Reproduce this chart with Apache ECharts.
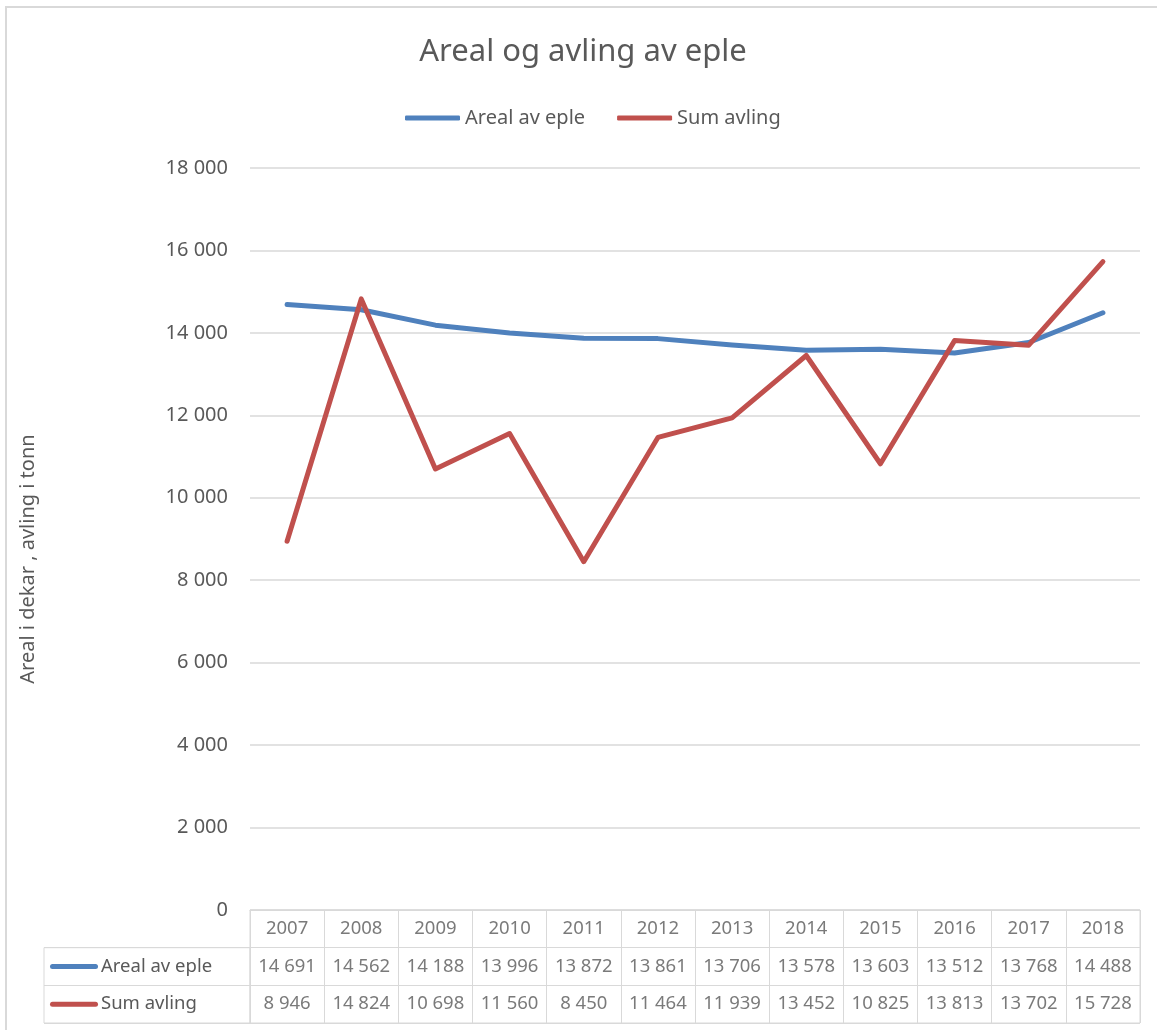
<!DOCTYPE html>
<html>
<head>
<meta charset="utf-8">
<script src="https://cdn.jsdelivr.net/npm/echarts@6/dist/echarts.min.js"></script>
<style>
    html, body { margin: 0; padding: 0; background: #fff; overflow: hidden; }
    #main {
        position: absolute; left: 5px; top: 6px;
        width: 1152px; height: 1024px;
        border-left: 2px solid #d9d9d9; border-top: 2px solid #d9d9d9;
    }
</style>
</head>
<body>
<div id="main"></div>
<script>
// data
var years = ['2007', '2008', '2009', '2010', '2011', '2012', '2013', '2014', '2015', '2016', '2017', '2018'];
var arealEple = [14691, 14562, 14188, 13996, 13872, 13861, 13706, 13578, 13603, 13512, 13768, 14488];
var sumAvling = [8946, 14824, 10698, 11560, 8450, 11464, 11939, 13452, 10825, 13813, 13702, 15728];
var seriesNames = ['Areal av eple', 'Sum avling'];
var seriesColors = ['#4f81bd', '#c0504d'];

var textColor = '#595959';
var lineColor = '#d9d9d9';
var font = 'Noto Sans';

var fmt = function (v) {
    return String(v).replace(/\B(?=(\d{3})+(?!\d))/g, ' ');
};

// table cells: header row with years, then one row per series
var cellData = [], cellText = [];
var rows = [years, arealEple, sumAvling];
for (var r = 0; r < rows.length; r++) {
    for (var i = 0; i < years.length; i++) {
        cellData.push([i, r]);
        cellText.push(r == 0 ? rows[r][i] : fmt(rows[r][i]));
    }
}

var myChart = echarts.init(document.getElementById('main'));
var option = {
    backgroundColor: '#fff',
    textStyle: { fontFamily: font },
    animation: false,
    title: {
        text: 'Areal og avling av eple',
        left: 'center',
        top: 24,
        textStyle: { fontFamily: font, fontSize: 31, fontWeight: 'normal', color: textColor }
    },
    legend: {
        data: seriesNames,
        left: 393,
        top: 95,
        icon: 'roundRect',
        itemWidth: 55,
        itemHeight: 5,
        itemGap: 32,
        textStyle: { fontFamily: font, fontSize: 20, color: textColor }
    },
    grid: [
        // plot
        { left: 243, top: 160, width: 890, height: 742 },
        // data table cells
        { left: 243, top: 902, width: 890, height: 113, show: true, borderColor: lineColor, borderWidth: 1 },
        // row labels of table
        { left: 37, top: 939.7, width: 206, height: 75.3, show: true, borderColor: lineColor, borderWidth: 1 }
    ],
    xAxis: [
        {
            gridIndex: 0,
            type: 'category',
            data: years,
            boundaryGap: true,
            axisLine: { lineStyle: { color: lineColor } },
            axisTick: { show: false },
            axisLabel: { show: false }
        },
        {
            gridIndex: 1,
            type: 'category',
            data: years,
            boundaryGap: true,
            axisLine: { show: false },
            axisTick: { show: false },
            axisLabel: { show: false },
            splitLine: { show: true, interval: 0, lineStyle: { color: lineColor } }
        },
        {
            gridIndex: 2,
            type: 'value',
            show: false
        }
    ],
    yAxis: [
        {
            gridIndex: 0,
            type: 'value',
            min: 0,
            max: 18000,
            interval: 2000,
            name: 'Areal i dekar , avling i tonn',
            nameLocation: 'middle',
            nameGap: 212,
            nameTextStyle: { fontFamily: font, fontSize: 20, color: textColor, padding: [0, 40, 0, 0] },
            axisLine: { show: false },
            axisTick: { show: false },
            axisLabel: { fontFamily: font, fontSize: 20, color: textColor, margin: 22, formatter: fmt },
            splitLine: { lineStyle: { color: lineColor, width: 1.5 } }
        },
        {
            gridIndex: 1,
            type: 'category',
            data: ['', seriesNames[0], seriesNames[1]],
            inverse: true,
            axisLine: { show: false },
            axisTick: { show: false },
            axisLabel: { show: false },
            splitLine: { show: true, interval: 0, lineStyle: { color: lineColor } }
        },
        {
            gridIndex: 2,
            type: 'category',
            data: seriesNames,
            inverse: true,
            position: 'left',
            axisLine: { show: false },
            axisTick: { show: false },
            splitLine: { show: true, interval: 0, lineStyle: { color: lineColor } },
            axisLabel: {
                inside: true,
                margin: 6,
                formatter: function (v, idx) {
                    return '{k' + idx + '| }{t|' + v + '}';
                },
                rich: {
                    k0: { width: 48, height: 5, backgroundColor: seriesColors[0], borderRadius: 2.5 },
                    k1: { width: 48, height: 5, backgroundColor: seriesColors[1], borderRadius: 2.5 },
                    t: { fontFamily: font, fontSize: 18.5, color: textColor, padding: [0, 0, 0, 3] }
                }
            }
        }
    ],
    series: [
        {
            name: seriesNames[0],
            type: 'line',
            xAxisIndex: 0,
            yAxisIndex: 0,
            data: arealEple,
            symbol: 'none',
            color: seriesColors[0],
            lineStyle: { width: 5, cap: 'round', join: 'round' }
        },
        {
            name: seriesNames[1],
            type: 'line',
            xAxisIndex: 0,
            yAxisIndex: 0,
            data: sumAvling,
            symbol: 'none',
            color: seriesColors[1],
            lineStyle: { width: 5, cap: 'round', join: 'round' }
        },
        {
            name: 'table',
            type: 'scatter',
            xAxisIndex: 1,
            yAxisIndex: 1,
            data: cellData,
            symbolSize: 1,
            itemStyle: { color: 'rgba(0,0,0,0)' },
            silent: true,
            label: {
                show: true,
                position: 'inside',
                fontFamily: font,
                fontSize: 18.5,
                color: textColor,
                formatter: function (p) {
                    return cellText[p.dataIndex];
                }
            }
        }
    ]
};
myChart.setOption(option);
</script>
</body>
</html>
